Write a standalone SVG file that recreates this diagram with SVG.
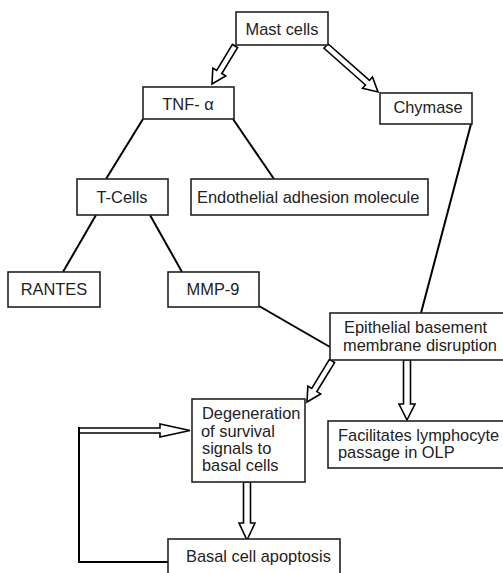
<svg xmlns="http://www.w3.org/2000/svg" width="503" height="573" viewBox="0 0 503 573">
<style>
.box{fill:#fff;stroke:#222;stroke-width:1.6}
.t{font-family:"Liberation Sans",Arial,sans-serif;font-size:16.4px;fill:#222}
.c{text-anchor:middle}
.ln{stroke:#000;stroke-width:2;fill:none}
.ar{fill:#fff;stroke:#000;stroke-width:1.6;stroke-linejoin:miter}
</style>
<rect width="503" height="573" fill="#fff"/>
<g id="connectors">
<line class="ln" x1="143" y1="119" x2="106" y2="179"/>
<line class="ln" x1="233" y1="119" x2="274" y2="179"/>
<line class="ln" x1="96" y1="215" x2="63" y2="272"/>
<line class="ln" x1="150" y1="215" x2="182" y2="272"/>
<line class="ln" x1="259" y1="306" x2="330" y2="347"/>
<line class="ln" x1="471" y1="124" x2="421" y2="313"/>
<path class="ar" transform="translate(235,46) rotate(121.2)" d="M0,-3 L30.4,-3 L30.4,-7.5 L44.4,0 L30.4,7.5 L30.4,3 L0,3 Z"/>
<path class="ar" transform="translate(326,46) rotate(41.5)" d="M0,-3 L55.4,-3 L55.4,-7.5 L69.4,0 L55.4,7.5 L55.4,3 L0,3 Z"/>
<path class="ar" transform="translate(332,361) rotate(121.4)" d="M0,-3 L34,-3 L34,-7.5 L48,0 L34,7.5 L34,3 L0,3 Z"/>
<path class="ar" transform="translate(407,360) rotate(90)" d="M0,-3.5 L44,-3.5 L44,-8 L60,0 L44,8 L44,3.5 L0,3.5 Z"/>
<path class="ar" transform="translate(247,482) rotate(90)" d="M0,-3.5 L41,-3.5 L41,-8 L58,0 L41,8 L41,3.5 L0,3.5 Z"/>
<path class="ar" d="M79,428 L160,428 L160,424 L190,430.5 L160,437 L160,433 L80,433"/>
<polyline class="ln" points="168,562 79,562 79,427"/>
</g>
<g id="mast"><rect class="box" x="236" y="12" width="92" height="33"/><text class="t c" x="282" y="35">Mast cells</text></g>
<g id="tnf"><rect class="box" x="143" y="87" width="91" height="32"/><text class="t c" x="188" y="110">TNF- α</text></g>
<g id="chymase"><rect class="box" x="380" y="93" width="92" height="31"/><text class="t c" x="428" y="113">Chymase</text></g>
<g id="tcells"><rect class="box" x="77" y="179" width="91" height="36"/><text class="t c" x="122" y="203">T-Cells</text></g>
<g id="endothelial"><rect class="box" x="191" y="179" width="237" height="36"/><text class="t" x="197" y="203">Endothelial adhesion molecule</text></g>
<g id="rantes"><rect class="box" x="8" y="272" width="92" height="35"/><text class="t c" x="54" y="295">RANTES</text></g>
<g id="mmp9"><rect class="box" x="168" y="272" width="91" height="35"/><text class="t c" x="213" y="295">MMP-9</text></g>
<g id="epithelial"><rect class="box" x="330" y="313" width="180" height="47"/><text class="t" x="344" y="333">Epithelial basement</text><text class="t" x="343" y="351">membrane disruption</text></g>
<g id="degeneration"><rect class="box" x="192" y="399" width="113" height="83"/><text class="t" x="202" y="419">Degeneration</text><text class="t" x="201" y="437">of survival</text><text class="t" x="202" y="454">signals to</text><text class="t" x="202" y="471">basal cells</text></g>
<g id="facilitates"><rect class="box" x="328" y="421" width="185" height="47"/><text class="t" x="338" y="441">Facilitates lymphocyte</text><text class="t" x="338" y="458">passage in OLP</text></g>
<g id="basal"><rect class="box" x="168" y="539" width="172" height="45"/><text class="t" x="186" y="562">Basal cell apoptosis</text></g>
</svg>
